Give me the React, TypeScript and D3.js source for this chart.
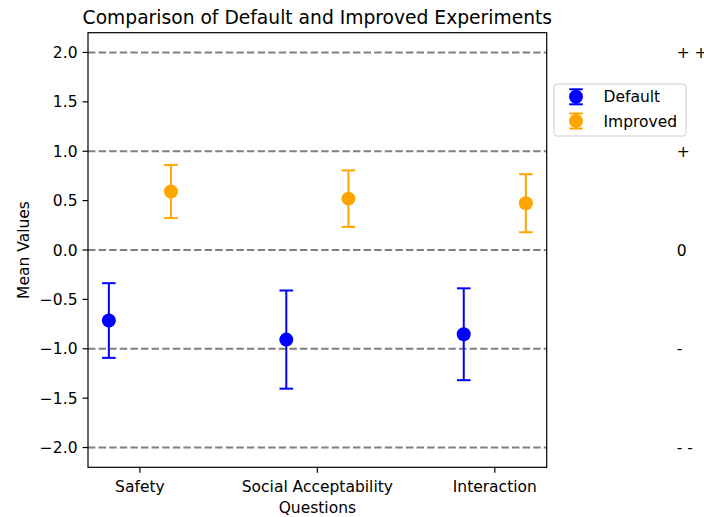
import React from "react";
import * as d3 from "d3";

const categories = ["Safety", "Social Acceptability", "Interaction"];
const defaultMeans = [-0.714, -0.907, -0.853];
const defaultErrs = [0.378, 0.497, 0.465];
const improvedMeans = [0.592, 0.52, 0.474];
const improvedErrs = [0.269, 0.286, 0.294];
const yTicks = [-2.0, -1.5, -1.0, -0.5, 0.0, 0.5, 1.0, 1.5, 2.0];
const refLevels = [2, 1, 0, -1, -2];
const refLabels = ["+ +", "+", "0", "-", "- -"];
const seriesNames = ["Default", "Improved"];
const seriesColors = ["blue", "orange"];

const W = 704;
const H = 517;
const FONT = "DejaVu Sans, sans-serif";
const FS = 15.5;
const TFS = 18.7;

export default function App() {
  const left = 88;
  const right = 546.7;
  const top = 32.7;
  const bottom = 467.3;
  const offset = 0.175;
  const x = d3.scaleLinear().domain([-0.2925, 2.2925]).range([left, right]);
  const y = d3.scaleLinear().domain([-2.2, 2.2]).range([bottom, top]);
  const cap = 6.8;
  const r = 7;
  const fmt = (v: number) => {
    const s = v.toFixed(1);
    return v < 0 ? "\u2212" + s.slice(1) : s;
  };

  const series = [
    { means: defaultMeans, errs: defaultErrs, dx: -offset, color: seriesColors[0] },
    { means: improvedMeans, errs: improvedErrs, dx: offset, color: seriesColors[1] },
  ];

  return (
    <svg
      width={W}
      height={H}
      style={{ position: "absolute", left: 0, top: 0, background: "white" }}
      fontFamily={FONT}
    >
      <rect x={0} y={0} width={W} height={H} fill="white" />
      {refLevels.map((v) => (
        <line
          key={"h" + v}
          x1={left}
          x2={right}
          y1={y(v)}
          y2={y(v)}
          stroke="gray"
          strokeWidth={2}
          strokeDasharray="7.4 3.2"
        />
      ))}
      {series.map((s, si) =>
        s.means.map((m, i) => {
          const cx = x(i + s.dx);
          const y1 = y(m + s.errs[i]);
          const y2 = y(m - s.errs[i]);
          return (
            <g key={si + "-" + i}>
              <line x1={cx} x2={cx} y1={y1} y2={y2} stroke={s.color} strokeWidth={2} />
              <line x1={cx - cap} x2={cx + cap} y1={y1} y2={y1} stroke={s.color} strokeWidth={2} />
              <line x1={cx - cap} x2={cx + cap} y1={y2} y2={y2} stroke={s.color} strokeWidth={2} />
              <circle cx={cx} cy={y(m)} r={r} fill={s.color} />
            </g>
          );
        })
      )}
      <rect x={left} y={top} width={right - left} height={bottom - top} fill="none" stroke="black" strokeWidth={1.2} />
      {yTicks.map((t) => (
        <g key={"yt" + t}>
          <line x1={left - 5.5} x2={left} y1={y(t)} y2={y(t)} stroke="black" strokeWidth={1.2} />
          <text x={left - 10.5} y={y(t)} dy="0.36em" textAnchor="end" fontSize={FS} fill="black">
            {fmt(t)}
          </text>
        </g>
      ))}
      {categories.map((c, i) => (
        <g key={"xt" + c}>
          <line x1={x(i)} x2={x(i)} y1={bottom} y2={bottom + 5.5} stroke="black" strokeWidth={1.2} />
          <text x={x(i)} y={491.5} textAnchor="middle" fontSize={FS} fill="black">
            {c}
          </text>
        </g>
      ))}
      {refLevels.map((v, i) => (
        <text key={"rl" + v} x={x(3.025)} y={y(v)} dy="0.36em" textAnchor="start" fontSize={FS} fill="black">
          {refLabels[i]}
        </text>
      ))}
      <text x={(left + right) / 2} y={513} textAnchor="middle" fontSize={FS} fill="black">
        Questions
      </text>
      <text
        transform={`translate(${28.5},${(top + bottom) / 2}) rotate(-90)`}
        textAnchor="middle"
        fontSize={FS}
        fill="black"
      >
        Mean Values
      </text>
      <text x={(left + right) / 2} y={24} textAnchor="middle" fontSize={TFS} fill="black">
        Comparison of Default and Improved Experiments
      </text>
      <g>
        <rect x={554} y={84} width={132} height={52} rx={3} fill="white" fillOpacity={0.8} stroke="#cccccc" strokeWidth={1} />
        {seriesNames.map((n, i) => {
          const ly = 96.8 + i * 24.2;
          const lx = 576;
          const c = seriesColors[i];
          return (
            <g key={"lg" + n}>
              <line x1={lx} x2={lx} y1={ly - 7.5} y2={ly + 7.5} stroke={c} strokeWidth={2} />
              <line x1={lx - cap} x2={lx + cap} y1={ly - 7.5} y2={ly - 7.5} stroke={c} strokeWidth={2} />
              <line x1={lx - cap} x2={lx + cap} y1={ly + 7.5} y2={ly + 7.5} stroke={c} strokeWidth={2} />
              <circle cx={lx} cy={ly} r={r} fill={c} />
              <text x={603.5} y={ly} dy="0.36em" fontSize={FS} fill="black">
                {n}
              </text>
            </g>
          );
        })}
      </g>
    </svg>
  );
}
